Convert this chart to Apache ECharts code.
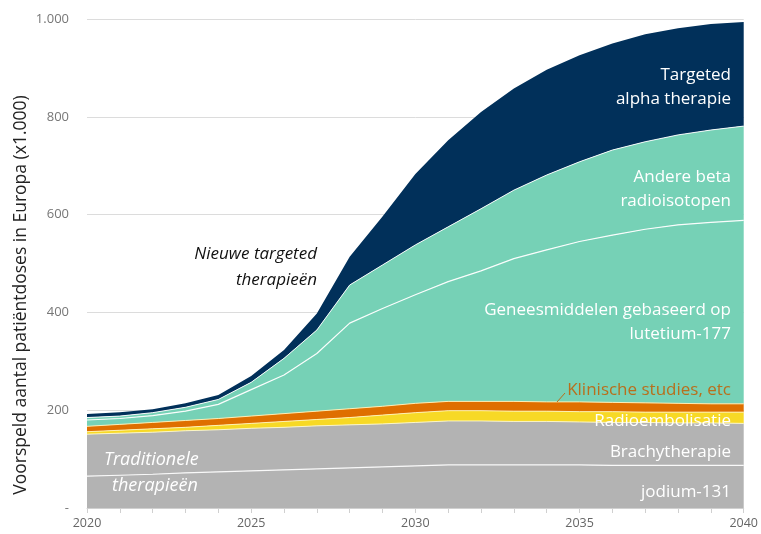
<!DOCTYPE html>
<html>
<head>
<meta charset="utf-8">
<script src="https://cdn.jsdelivr.net/npm/echarts@6/dist/echarts.min.js"></script>
<style>html,body{margin:0;padding:0;background:#fff}#c{width:761px;height:534px}</style>
</head>
<body>
<div id="c"></div>
<script>
const years = ['2020','2021','2022','2023','2024','2025','2026','2027','2028','2029','2030','2031','2032','2033','2034','2035','2036','2037','2038','2039','2040'];
const jodium131 = [65,67,69,72,74,76,78,80,82,84,86,88,88,88,88,88,87,87,87,87,87];
const brachytherapie = [86,86,86,86,86,87,87,88,88,88,89,90,90,89,89,88,88,88,87,87,86];
const radioembolisatie = [5,6,7,7,9,10,12,13,15,18,20,21,21,21,21,21,22,21,22,22,23];
const klinischeStudies = [11,12,13,14,14,15,16,17,18,18,19,19,19,20,19,20,19,19,18,17,17];
const lutetium177 = [13,12,14,19,29,54,79,118,175,200,222,245,267,292,311,328,342,355,365,371,375];
const andereBeta = [5,5,6,8,10,15,34,48,78,89,102,112,127,140,153,163,174,179,184,189,193];
const targetedAlpha = [7,8,7,8,9,13,17,34,58,99,145,177,198,208,215,218,218,220,218,217,213];
const yTicks = {0:'-',200:'200',400:'400',600:'600',800:'800',1000:'1.000'};

const FONT = "'Open Sans', 'Noto Sans', sans-serif";
function mk(name, data, color, lineColor, lineWidth, z) {
  return {
    name: name, type: 'line', stack: 'total', data: data, smooth: false,
    showSymbol: false, symbol: 'none', z: z,
    lineStyle: {color: lineColor, width: lineWidth},
    areaStyle: {color: color, opacity: 1},
    itemStyle: {color: color},
    emphasis: {disabled: true}
  };
}
const chart = echarts.init(document.getElementById('c'), null, {renderer: 'canvas'});
function txt(text, x, y, opts) {
  return {
    type: 'text', x: x, y: y, z: 100,
    style: Object.assign({text: text, fill: '#fff', font: '17px ' + FONT, textAlign: 'right', textVerticalAlign: 'middle'}, opts || {})
  };
}
chart.setOption({
  animation: false,
  grid: {left: 87, right: 16, top: 19, bottom: 26, containLabel: false},
  xAxis: {
    type: 'category', data: years, boundaryGap: false,
    axisLine: {lineStyle: {color: '#d0d0d0'}},
    axisTick: {show: true, interval: 0, length: 5, lineStyle: {color: '#d0d0d0'}},
    axisLabel: {interval: 4, color: '#666', fontSize: 12.5, fontFamily: FONT, margin: 9},
    splitLine: {show: false}
  },
  yAxis: {
    type: 'value', min: 0, max: 1000, interval: 200,
    axisLine: {show: false}, axisTick: {show: false},
    axisLabel: {color: '#777', fontSize: 13, fontFamily: FONT, margin: 18,
      formatter: function (v) { return yTicks[v] !== undefined ? yTicks[v] : ''; }},
    splitLine: {lineStyle: {color: '#dcdcdc', width: 1}}
  },
  series: [
    mk('jodium-131', jodium131, '#b3b3b3', 'rgba(255,255,255,0.9)', 1.2, 9),
    mk('Brachytherapie', brachytherapie, '#b3b3b3', 'rgba(255,250,200,0.9)', 1, 8),
    mk('Radioembolisatie', radioembolisatie, '#f7d926', 'rgba(255,245,190,0.9)', 1, 7),
    mk('Klinische studies, etc', klinischeStudies, '#df6f00', 'rgba(255,245,190,0.9)', 1, 6),
    mk('Lutetium-177', lutetium177, '#76d1b6', 'rgba(255,255,255,0.95)', 1.2, 5),
    mk('Andere beta radioisotopen', andereBeta, '#76d1b6', 'rgba(255,255,255,0.9)', 1, 4),
    mk('Targeted alpha therapie', targetedAlpha, '#01305a', 'rgba(1,48,90,1)', 0, 3)
  ],
  graphic: [
    {type: 'text', x: 21, y: 295, rotation: Math.PI / 2, z: 100,
     style: {text: 'Voorspeld aantal patiëntdoses in Europa (x1.000)', fill: '#222', font: '17.5px ' + FONT, textAlign: 'center', textVerticalAlign: 'middle'}},
    txt('Targeted', 731, 75),
    txt('alpha therapie', 731, 99),
    txt('Andere beta', 731, 177),
    txt('radioisotopen', 731, 201),
    txt('Geneesmiddelen gebaseerd op', 731, 310),
    txt('lutetium-177', 731, 334),
    txt('Klinische studies, etc', 731, 390, {fill: '#b86f1c'}),
    {type: 'line', z: 100, shape: {x1: 557, y1: 402, x2: 565, y2: 393}, style: {stroke: '#b86f1c', lineWidth: 1}},
    txt('Radioembolisatie', 731, 421),
    txt('Brachytherapie', 731, 452),
    txt('jodium-131', 731, 492),
    txt('Traditionele', 104, 460, {font: 'italic 18px ' + FONT, textAlign: 'left'}),
    txt('therapieën', 112, 486, {font: 'italic 18px ' + FONT, textAlign: 'left'}),
    txt('Nieuwe targeted', 317, 254, {font: 'italic 17px ' + FONT, fill: '#111'}),
    txt('therapieën', 317, 280, {font: 'italic 17px ' + FONT, fill: '#111'})
  ]
});
</script>
</body>
</html>
